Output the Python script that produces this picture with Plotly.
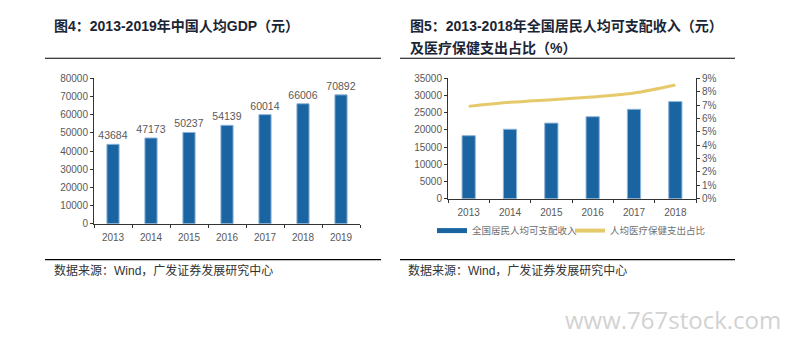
import plotly.graph_objects as go

W, H = 785, 346

years_gdp = ["2013", "2014", "2015", "2016", "2017", "2018", "2019"]
gdp_per_capita = [43684, 47173, 50237, 54139, 60014, 66006, 70892]

years_inc = ["2013", "2014", "2015", "2016", "2017", "2018"]
disposable_income = [18311, 20167, 21966, 23821, 25974, 28228]
health_share = [6.9, 7.2, 7.4, 7.6, 7.9, 8.5]

title_left = "<b>图4：2013-2019年中国人均GDP（元）</b>"
title_right_1 = "<b>图5：2013-2018年全国居民人均可支配收入（元）</b>"
title_right_2 = "<b>及医疗保健支出占比（%）</b>"
source_text = "数据来源：Wind，广发证券发展研究中心"
legend_bar = "全国居民人均可支配收入"
legend_line = "人均医疗保健支出占比"

BLUE = "#1B64A2"
GOLD = "#E6C96A"
TXT = "#595959"
FONT = "Liberation Sans, Noto Sans CJK SC, sans-serif"


def px(x):
    return x / W


def py(y):
    return 1 - y / H


fig = go.Figure()

fig.add_trace(go.Bar(
    x=years_gdp, y=gdp_per_capita, xaxis="x", yaxis="y",
    marker=dict(color=BLUE, line=dict(color="#8db3d8", width=1)),
    text=[str(v) for v in gdp_per_capita], textposition="outside",
    constraintext="none",
    textfont=dict(size=10.5, color=TXT, family=FONT), cliponaxis=False,
    showlegend=False,
))

fig.add_trace(go.Bar(
    x=years_inc, y=disposable_income, xaxis="x2", yaxis="y2",
    marker=dict(color=BLUE, line=dict(color="#8db3d8", width=1)),
    showlegend=False,
))
fig.add_trace(go.Scatter(
    x=years_inc, y=health_share, xaxis="x2", yaxis="y3",
    mode="lines", line=dict(color=GOLD, width=3, shape="spline", smoothing=0.8),
    showlegend=False,
))
# legend entries (line-style keys as in the reference)
fig.add_trace(go.Scatter(
    x=[None], y=[None], xaxis="x2", yaxis="y2", mode="lines",
    line=dict(color=BLUE, width=5), name=legend_bar, showlegend=True,
))
fig.add_trace(go.Scatter(
    x=[None], y=[None], xaxis="x2", yaxis="y3", mode="lines",
    line=dict(color=GOLD, width=4), name=legend_line, showlegend=True,
))

axis_common = dict(
    showgrid=False, zeroline=False, showline=True, linecolor="#333333",
    linewidth=1, ticks="outside", ticklen=3, tickcolor="#333333",
    tickfont=dict(size=10, color=TXT, family=FONT), fixedrange=True,
)

fig.update_layout(
    width=W, height=H,
    margin=dict(l=0, r=0, t=0, b=0),
    paper_bgcolor="white", plot_bgcolor="white",
    bargap=0.68,
    xaxis=dict(domain=[px(94), px(360)], anchor="y", tickson="boundaries",
               ticklabelstandoff=4, **axis_common),
    yaxis=dict(domain=[py(226), py(75.7)], anchor="x", range=[0, 80000],
               dtick=10000, tickformat="d", **axis_common),
    xaxis2=dict(domain=[px(448), px(696)], anchor="y2", tickson="boundaries",
                ticklabelstandoff=4, **axis_common),
    yaxis2=dict(domain=[py(200), py(75.7)], anchor="x2", range=[0, 35000],
                dtick=5000, tickformat="d", **axis_common),
    yaxis3=dict(overlaying="y2", side="right", anchor="x2", range=[0, 9],
                dtick=1, ticksuffix="%", **axis_common),
    legend=dict(orientation="h", x=px(432), y=py(233), xanchor="left", yanchor="middle",
                font=dict(size=9.5, color="#6f6f6f", family="Noto Sans CJK SC"),
                itemwidth=30, bgcolor="rgba(0,0,0,0)", tracegroupgap=0,
                entrywidth=93),
    font=dict(family=FONT),
)

annotations = [
    dict(text=title_left, x=px(52), y=py(22), xanchor="left", yanchor="middle",
         font=dict(size=14, color="#1a2535", family=FONT)),
    dict(text=title_right_1, x=px(408), y=py(22), xanchor="left", yanchor="middle",
         font=dict(size=14, color="#1a2535", family=FONT)),
    dict(text=title_right_2, x=px(408), y=py(44), xanchor="left", yanchor="middle",
         font=dict(size=14, color="#1a2535", family=FONT)),
    dict(text=source_text, x=px(52), y=py(274), xanchor="left", yanchor="middle",
         font=dict(size=12, color="#333333", family=FONT)),
    dict(text=source_text, x=px(406), y=py(274), xanchor="left", yanchor="middle",
         font=dict(size=12, color="#333333", family=FONT)),
    dict(text="www.767stock.com", x=px(783), y=py(325), xanchor="right", yanchor="middle",
         font=dict(size=24, color="#d2d2d2", family="Open Sans")),
]
for a in annotations:
    a.update(xref="paper", yref="paper", showarrow=False)
fig.update_layout(annotations=annotations)

shapes = []
for x0, x1, y in [(45, 381, 55), (45, 381, 263), (400, 735, 55), (400, 735, 263)]:
    shapes.append(dict(type="line", xref="paper", yref="paper",
                       x0=px(x0), x1=px(x1), y0=py(y), y1=py(y),
                       line=dict(color="#000000", width=1.2)))
fig.update_layout(shapes=shapes)

fig.write_html("out.html")
